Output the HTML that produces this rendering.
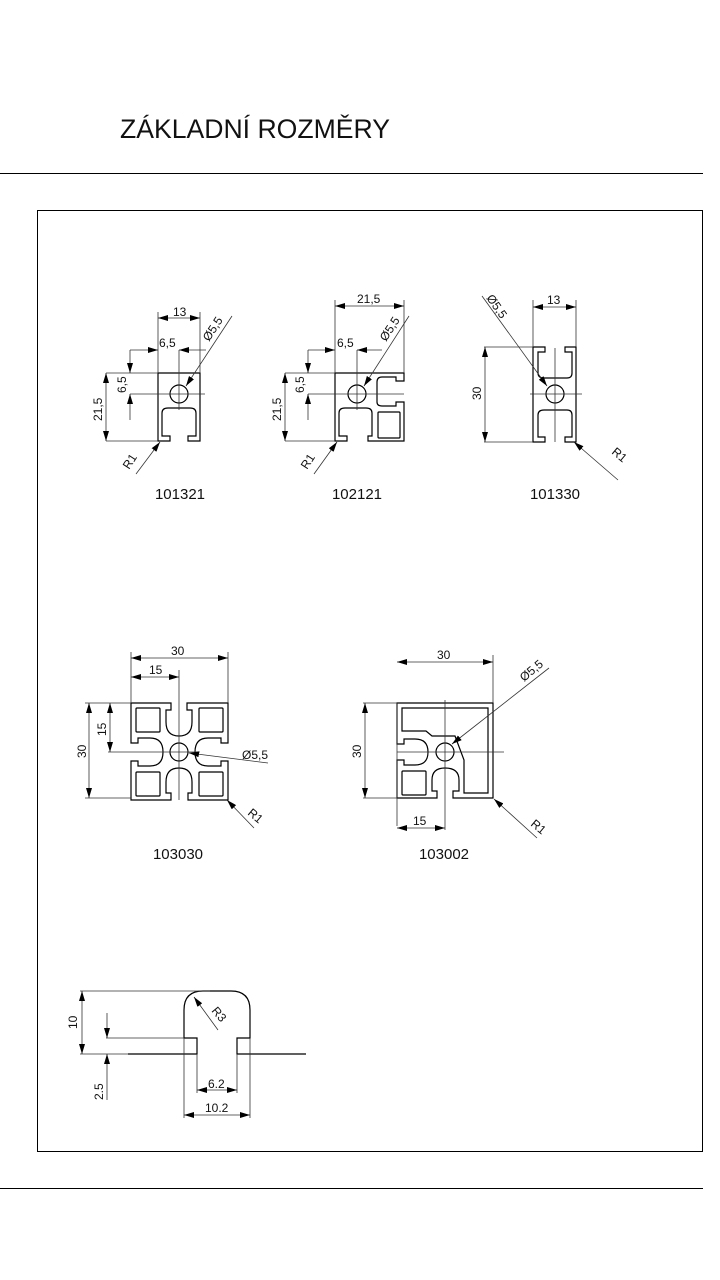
<!DOCTYPE html>
<html><head><meta charset="utf-8"><style>
html,body{margin:0;padding:0;background:#fff;}
svg{display:block;}
text{font-family:"Liberation Sans",sans-serif;fill:#111;}
</style></head><body>
<svg width="720" height="1280" viewBox="0 0 720 1280" xmlns="http://www.w3.org/2000/svg">
<defs>
<marker id="a" viewBox="0 0 10 6" refX="10" refY="3" markerWidth="10" markerHeight="6" markerUnits="userSpaceOnUse" orient="auto-start-reverse"><path d="M0,0 L10,3 L0,6 Z" fill="#000"/></marker>
</defs>
<text x="120" y="138" font-size="27" textLength="270" lengthAdjust="spacingAndGlyphs">ZÁKLADNÍ ROZMĚRY</text>
<line x1="0" y1="173.5" x2="703" y2="173.5" stroke="#000" stroke-width="1"/>
<rect x="37.5" y="210.5" width="665" height="941" fill="none" stroke="#000" stroke-width="1"/>
<line x1="0" y1="1188.5" x2="703" y2="1188.5" stroke="#000" stroke-width="1"/>

<g fill="none" stroke="#000" stroke-width="1.2">
<path d="M158,373 H200 V441 H188 V436 H196 V413 Q196,408 190,408 H168 Q162,408 162,413 V436 H170 V441 H158 Z"/>
<circle cx="179" cy="394" r="9"/>
<path d="M335,373 H404 V381 H396 V377 H382 Q377,377 377,382 V402 Q377,406 382,406 H396 V402 H404 V441 H368 V436 H372 V413 Q372,408 366,408 H345 Q339,408 339,413 V436 H347 V441 H335 Z"/>
<rect x="378" y="412" width="22" height="26" rx="1"/>
<circle cx="357" cy="394" r="9"/>
<path d="M533,347 H545 V352 H538 V373 Q538,378 544,378 H567 Q572,378 572,373 V352 H565 V347 H576 V442 H565 V437 H572 V415 Q572,410 567,410 H544 Q538,410 538,415 V437 H545 V442 H533 Z"/>
<circle cx="555" cy="394" r="9"/>
<path d="M131,703 H171 V710 H166 V722 Q166,736 179,736 Q192,736 192,722 V710 H187 V703 H228 V743 H221 V738 H208 Q195,738 195,752 Q195,766 208,766 H221 V761 H228 V800 H188 V793 H192 V782 Q192,768 179,768 Q166,768 166,782 V793 H171 V800 H131 V761 H138 V766 H150 Q163,766 163,752 Q163,738 150,738 H138 V743 H131 Z"/>
<rect x="136" y="708" width="24" height="24" rx="1"/>
<rect x="199" y="708" width="24" height="24" rx="1"/>
<rect x="136" y="772" width="24" height="24" rx="1"/>
<rect x="199" y="772" width="24" height="24" rx="1"/>
<circle cx="179" cy="752" r="9"/>
<path d="M397,703 H493 V798 H453 V791 H459 V780 Q459,768 445,768 Q432,768 432,780 V791 H437 V798 H397 V760 H404 V765 H415 Q428,765 428,752 Q428,739 415,739 H404 V744 H397 Z"/>
<path d="M402,708 H488 V793 H464 V760 L455,736 H432 L426,731 H402 Z"/>
<rect x="402" y="771" width="24" height="24" rx="1"/>
<circle cx="445" cy="752" r="9"/>
<path d="M128,1054 H197 V1038 H184 V1010 Q184,991 203,991 H231 Q250,991 250,1010 V1038 H237 V1054 H306"/>
</g>

<g fill="none" stroke="#333" stroke-width="0.8">
<line x1="158" y1="373" x2="158" y2="312"/><line x1="200" y1="373" x2="200" y2="312"/>
<line x1="158" y1="318" x2="200" y2="318" marker-start="url(#a)" marker-end="url(#a)"/>
<line x1="179" y1="410" x2="179" y2="350"/>
<line x1="130" y1="350" x2="158" y2="350" marker-end="url(#a)"/>
<line x1="179" y1="350" x2="206" y2="350" marker-start="url(#a)"/>
<line x1="106" y1="373" x2="158" y2="373"/><line x1="106" y1="441" x2="158" y2="441"/>
<line x1="130" y1="394" x2="205" y2="394"/>
<line x1="106" y1="373" x2="106" y2="441" marker-start="url(#a)" marker-end="url(#a)"/>
<line x1="130" y1="350" x2="130" y2="373" marker-end="url(#a)"/>
<line x1="130" y1="394" x2="130" y2="420" marker-start="url(#a)"/>
<line x1="232" y1="316" x2="186" y2="386" marker-end="url(#a)"/>
<line x1="136" y1="474" x2="160" y2="442" marker-end="url(#a)"/>
<line x1="335" y1="373" x2="335" y2="300"/><line x1="404" y1="373" x2="404" y2="300"/>
<line x1="335" y1="306" x2="404" y2="306" marker-start="url(#a)" marker-end="url(#a)"/>
<line x1="357" y1="410" x2="357" y2="350"/>
<line x1="308" y1="350" x2="335" y2="350" marker-end="url(#a)"/>
<line x1="357" y1="350" x2="382" y2="350" marker-start="url(#a)"/>
<line x1="285" y1="373" x2="335" y2="373"/><line x1="285" y1="441" x2="335" y2="441"/>
<line x1="308" y1="394" x2="404" y2="394"/>
<line x1="285" y1="373" x2="285" y2="441" marker-start="url(#a)" marker-end="url(#a)"/>
<line x1="308" y1="350" x2="308" y2="373" marker-end="url(#a)"/>
<line x1="308" y1="394" x2="308" y2="420" marker-start="url(#a)"/>
<line x1="409" y1="316" x2="364" y2="386" marker-end="url(#a)"/>
<line x1="314" y1="474" x2="337" y2="442" marker-end="url(#a)"/>
<line x1="533" y1="347" x2="533" y2="300"/><line x1="576" y1="347" x2="576" y2="300"/>
<line x1="533" y1="307" x2="576" y2="307" marker-start="url(#a)" marker-end="url(#a)"/>
<line x1="484" y1="347" x2="533" y2="347"/><line x1="484" y1="442" x2="533" y2="442"/>
<line x1="485" y1="347" x2="485" y2="442" marker-start="url(#a)" marker-end="url(#a)"/>
<line x1="555" y1="348" x2="555" y2="442"/><line x1="530" y1="394" x2="582" y2="394"/>
<line x1="482" y1="296" x2="547" y2="386" marker-end="url(#a)"/>
<line x1="618" y1="480" x2="574" y2="442" marker-end="url(#a)"/>
<line x1="131" y1="703" x2="131" y2="652"/><line x1="228" y1="703" x2="228" y2="652"/>
<line x1="131" y1="658" x2="228" y2="658" marker-start="url(#a)" marker-end="url(#a)"/>
<line x1="179" y1="670" x2="179" y2="800"/>
<line x1="131" y1="677" x2="179" y2="677" marker-start="url(#a)" marker-end="url(#a)"/>
<line x1="85" y1="703" x2="131" y2="703"/><line x1="85" y1="798" x2="131" y2="798"/>
<line x1="89" y1="703" x2="89" y2="798" marker-start="url(#a)" marker-end="url(#a)"/>
<line x1="108" y1="752" x2="200" y2="752"/>
<line x1="110" y1="703" x2="110" y2="752" marker-start="url(#a)" marker-end="url(#a)"/>
<line x1="268" y1="763" x2="189" y2="753" marker-end="url(#a)"/>
<line x1="254" y1="828" x2="227" y2="800" marker-end="url(#a)"/>
<line x1="397" y1="703" x2="397" y2="826"/><line x1="493" y1="703" x2="493" y2="655"/>
<line x1="397" y1="662" x2="493" y2="662" marker-start="url(#a)" marker-end="url(#a)"/>
<line x1="445" y1="700" x2="445" y2="830"/>
<line x1="397" y1="828" x2="445" y2="828" marker-start="url(#a)" marker-end="url(#a)"/>
<line x1="363" y1="703" x2="397" y2="703"/><line x1="363" y1="798" x2="397" y2="798"/>
<line x1="365" y1="703" x2="365" y2="798" marker-start="url(#a)" marker-end="url(#a)"/>
<line x1="397" y1="752" x2="504" y2="752"/>
<line x1="549" y1="668" x2="452" y2="744" marker-end="url(#a)"/>
<line x1="537" y1="838" x2="494" y2="799" marker-end="url(#a)"/>
<line x1="80" y1="991" x2="210" y2="991"/><line x1="80" y1="1054" x2="128" y2="1054"/>
<line x1="82" y1="991" x2="82" y2="1054" marker-start="url(#a)" marker-end="url(#a)"/>
<line x1="106" y1="1038" x2="184" y2="1038"/>
<line x1="107" y1="1013" x2="107" y2="1038" marker-end="url(#a)"/>
<line x1="107" y1="1054" x2="107" y2="1100" marker-start="url(#a)"/>
<line x1="197" y1="1054" x2="197" y2="1093"/><line x1="237" y1="1054" x2="237" y2="1093"/>
<line x1="197" y1="1090" x2="237" y2="1090" marker-start="url(#a)" marker-end="url(#a)"/>
<line x1="184" y1="1038" x2="184" y2="1118"/><line x1="250" y1="1038" x2="250" y2="1118"/>
<line x1="184" y1="1115" x2="250" y2="1115" marker-start="url(#a)" marker-end="url(#a)"/>
<line x1="218" y1="1030" x2="194" y2="997" marker-end="url(#a)"/>
</g>

<g font-size="12">
<text x="173" y="316">13</text>
<text x="159" y="347">6,5</text>
<text transform="translate(126,393) rotate(-90)">6,5</text>
<text transform="translate(102,421) rotate(-90)">21,5</text>
<text transform="translate(209,342) rotate(-57)">Ø5,5</text>
<text transform="translate(129,470) rotate(-57)">R1</text>
<text x="357" y="303">21,5</text>
<text x="337" y="347">6,5</text>
<text transform="translate(304,393) rotate(-90)">6,5</text>
<text transform="translate(281,421) rotate(-90)">21,5</text>
<text transform="translate(386,342) rotate(-57)">Ø5,5</text>
<text transform="translate(307,470) rotate(-57)">R1</text>
<text x="547" y="304">13</text>
<text transform="translate(481,400) rotate(-90)">30</text>
<text transform="translate(486,298) rotate(55)">Ø5,5</text>
<text transform="translate(611,453) rotate(40)">R1</text>
<text x="171" y="655">30</text>
<text x="149" y="674">15</text>
<text transform="translate(86,758) rotate(-90)">30</text>
<text transform="translate(106,736) rotate(-90)">15</text>
<text x="242" y="759">Ø5,5</text>
<text transform="translate(247,814) rotate(40)">R1</text>
<text x="437" y="659">30</text>
<text x="413" y="825">15</text>
<text transform="translate(361,758) rotate(-90)">30</text>
<text transform="translate(524,682) rotate(-40)">Ø5,5</text>
<text transform="translate(530,825) rotate(40)">R1</text>
<text transform="translate(77,1029) rotate(-90)">10</text>
<text transform="translate(103,1100) rotate(-90)">2.5</text>
<text transform="translate(211,1011) rotate(50)">R3</text>
<text x="208" y="1088">6.2</text>
<text x="205" y="1112">10.2</text>
</g>
<g font-size="15" text-anchor="middle">
<text x="180" y="499">101321</text>
<text x="357" y="499">102121</text>
<text x="555" y="499">101330</text>
<text x="178" y="859">103030</text>
<text x="444" y="859">103002</text>
</g>
</svg>
</body></html>
